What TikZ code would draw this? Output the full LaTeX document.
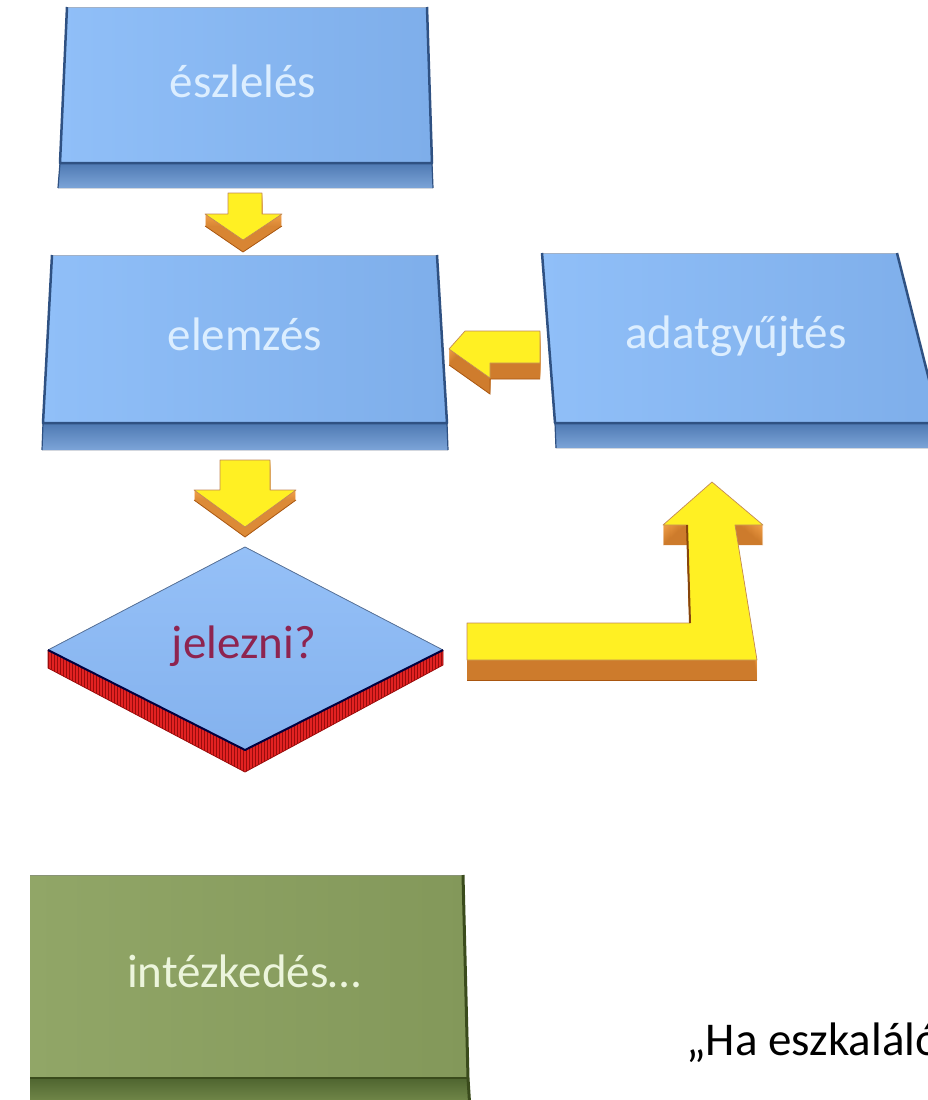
\documentclass[tikz,border=0pt]{standalone}
\usepackage{fontspec}
\setmainfont{Carlito}
\usetikzlibrary{patterns}
\definecolor{topA}{HTML}{90BFF8}
\definecolor{topB}{HTML}{7EAEEA}
\definecolor{frontA}{HTML}{4E79B2}
\definecolor{frontB}{HTML}{7CA4D8}
\definecolor{edgeC}{HTML}{2F5182}
\definecolor{txtC}{HTML}{DCEEFF}
\definecolor{grA}{HTML}{91A667}
\definecolor{grB}{HTML}{83985A}
\definecolor{grFrontA}{HTML}{4F6530}
\definecolor{grFrontB}{HTML}{7E9452}
\definecolor{grEdge}{HTML}{3A4B1C}
\definecolor{grTxt}{HTML}{ECF5DC}
\definecolor{yel}{HTML}{FFF023}
\definecolor{org}{HTML}{F2A048}
\definecolor{orgD}{HTML}{A9560F}
\definecolor{redA}{HTML}{E22222}
\definecolor{redD}{HTML}{9A0C0C}
\definecolor{jelTxt}{HTML}{8E2450}
\definecolor{diaA}{HTML}{95C0F7}
\definecolor{diaB}{HTML}{84B2EE}
\tikzset{
  boxtext/.style={text=txtC, inner sep=0pt, anchor=base},
  frontface/.style={top color=frontA, bottom color=frontB},
  topface/.style={left color=topA, right color=topB},
  edgeline/.style={draw=edgeC, line width=2.5pt, line join=round},
  topline/.style={draw=edgeC!45, line width=0.8pt},
  yelface/.style={fill=yel, draw=orgD!70, line width=0.7pt, line join=round},
  orgside/.style={fill=org, draw=none},
}
\begin{document}
\begin{tikzpicture}[x=1pt,y=-1pt,font=\fontsize{47}{56}\selectfont]
\useasboundingbox (0,0) rectangle (928,1100);
\clip (0,0) rectangle (928,1100);

% ---------- box 1: észlelés
\fill[frontface] (60,163) -- (432,163) -- (433,188) -- (58,188) -- cycle;
\fill[topface] (67,7) -- (427,7) -- (432,163) -- (60,163) -- cycle;
\draw[topline] (67,7) -- (427,7);
\draw[edgeline] (67,7) -- (60,163) -- (432,163) -- (427,7);
\draw[edgeC, line width=1.2pt] (60,163) -- (58,188) (432,163) -- (433,188);
\node[boxtext] (eszleles) at (243,97) {észlelés};

% ---------- arrow 1 (down)
\foreach \k in {1,...,12}{
  \fill[orgside, fill=org!\fpeval{100-3*\k}!orgD, shift={(0,\k)}]
    (228,193) -- (262,193) -- (262,214) -- (282,214) -- (243,240) -- (205,214) -- (228,214) -- cycle;
}
\draw[orgD, line width=0.8pt, shift={(0,12)}] (282,214) -- (243,240) -- (205,214);
\draw[yelface] (228,193) -- (262,193) -- (262,214) -- (282,214) -- (243,240) -- (205,214) -- (228,214) -- cycle;

% ---------- box 2: elemzés
\fill[frontface] (43,423) -- (447,423) -- (448,450) -- (42,450) -- cycle;
\fill[topface] (52,255) -- (437,255) -- (447,423) -- (43,423) -- cycle;
\draw[topline] (52,255) -- (437,255);
\draw[edgeline] (52,255) -- (43,423) -- (447,423) -- (437,255);
\draw[edgeC, line width=1.2pt] (43,423) -- (42,450) (447,423) -- (448,450);
\node[boxtext] (elemzes) at (245,350) {elemzés};

% ---------- box 3: adatgyűjtés
\fill[frontface] (555,423) -- (940,423) -- (940,448) -- (556,448) -- cycle;
\fill[topface] (542,253) -- (897,253) -- (940,423) -- (555,423) -- cycle;
\draw[topline] (542,253) -- (897,253);
\draw[edgeline] (542,253) -- (555,423) -- (940,423) (897,253) -- (940,423);
\draw[edgeC, line width=1.2pt] (555,423) -- (556,448);
\node[boxtext] (adat) at (736,348) {adatgyűjtés};

% ---------- arrow left (adat -> elemzes)
\foreach \k in {1,...,16}{
  \fill[orgside, fill=org!\fpeval{100-3*\k}!orgD, shift={(0,\k)}]
    (449,349) -- (465,331) -- (540,331) -- (540,363) -- (490,363) -- (490,378) -- cycle;
}
\draw[orgD, line width=0.8pt, shift={(0,16)}] (449,349) -- (490,378) -- (490,363) -- (540,363);
\draw[yelface] (449,349) -- (465,331) -- (540,331) -- (540,363) -- (490,363) -- (490,378) -- cycle;

% ---------- arrow 2 (down)
\foreach \k in {1,...,10}{
  \fill[orgside, fill=org!\fpeval{100-3*\k}!orgD, shift={(0,\k)}]
    (220,460) -- (270,460) -- (270,490) -- (296,490) -- (245,527) -- (194,490) -- (220,490) -- cycle;
}
\draw[orgD, line width=0.8pt, shift={(0,10)}] (296,490) -- (245,527) -- (194,490);
\draw[yelface] (220,460) -- (270,460) -- (270,490) -- (296,490) -- (245,527) -- (194,490) -- (220,490) -- cycle;

% ---------- diamond: jelezni?
\fill[redA] (48,650) -- (245,750) -- (443,650) -- (443,665) -- (245,772) -- (48,668) -- cycle;
\fill[pattern=vertical lines, pattern color=redD] (48,650) -- (245,750) -- (443,650) -- (443,665) -- (245,772) -- (48,668) -- cycle;
\draw[redD, line width=0.8pt, line join=round] (48,650) -- (48,668) -- (245,772) -- (443,665) -- (443,650);
\fill[top color=diaA, bottom color=diaB] (245,547) -- (443,650) -- (245,750) -- (48,650) -- cycle;
\draw[draw=edgeC!80, line width=0.8pt] (48,650) -- (245,547) -- (443,650);
\draw[draw=black!75!blue, line width=2pt, line join=round] (48,650) -- (245,750) -- (443,650);
\node[boxtext, text=jelTxt] (jelezni) at (244,658) {jelezni?};

% ---------- L arrow (jelezni -> adatgyujtes)
\foreach \k in {1,...,20}{
  \fill[orgside, fill=org!\fpeval{100-2.5*\k}!orgD, shift={(0,\k)}]
    (467,623) -- (690,623) -- (687,525) -- (663,525) -- (712,482) -- (763,525) -- (735,525) -- (757,660) -- (467,660) -- cycle;
}
\draw[orgD, line width=0.8pt, shift={(0,20)}] (467,660) -- (757,660);
\draw[yelface] (467,623) -- (690,623) -- (687,525) -- (663,525) -- (712,482) -- (763,525) -- (735,525) -- (757,660) -- (467,660) -- cycle;
\draw[orgD!80!black, line width=2pt] (690,623) -- (687,525);

% ---------- green box: intézkedés...
\fill[top color=grFrontA, bottom color=grFrontB] (30,1078) -- (468,1078) -- (470,1110) -- (30,1110) -- cycle;
\fill[left color=grA, right color=grB] (30,875) -- (463,875) -- (468,1078) -- (30,1078) -- cycle;
\draw[grEdge!60, line width=0.8pt] (30,875) -- (463,875);
\draw[grEdge, line width=2.5pt] (30,1078) -- (468,1078);
\draw[grEdge, line width=3pt] (463,875) -- (468,1078) -- (470,1110);
\node[boxtext, text=grTxt] (intez) at (244,987) {intézkedés…};

% ---------- bottom text
\node[anchor=base west, inner sep=0pt, text=black] (ha) at (686,1055) {„Ha eszkaláló};
\end{tikzpicture}
\end{document}
